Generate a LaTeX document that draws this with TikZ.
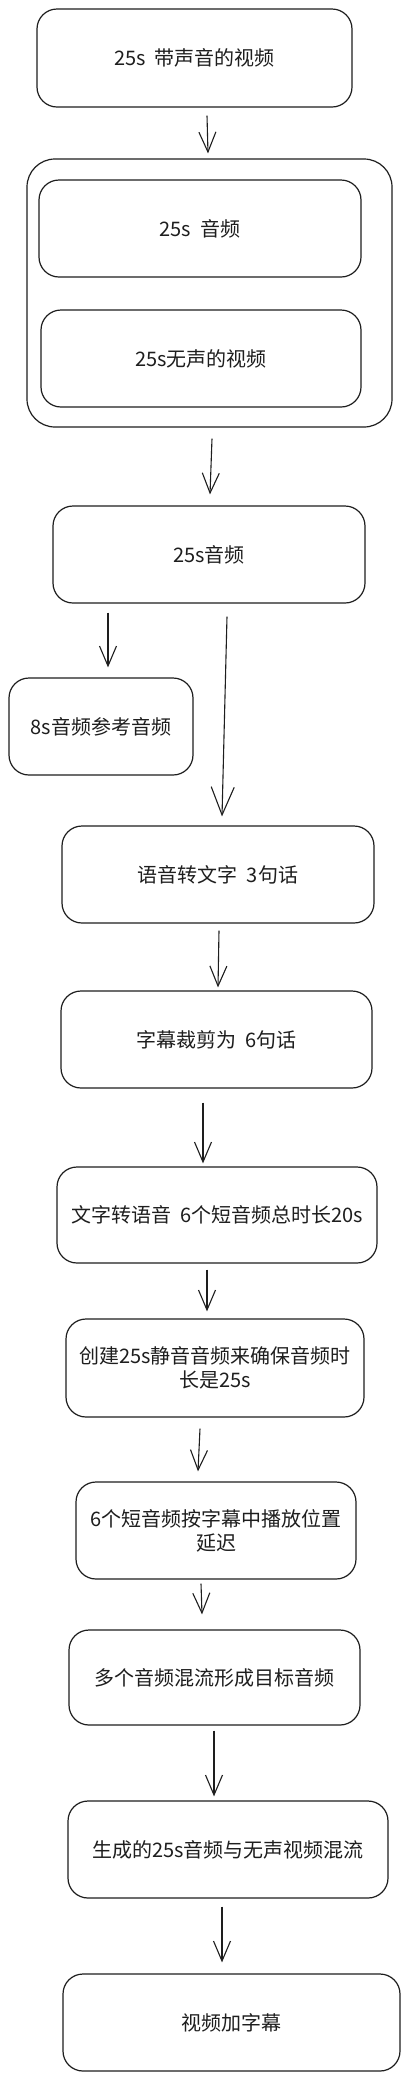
\documentclass[tikz,border=0pt]{standalone}
\usepackage{fontspec}
\setmainfont{Noto Sans CJK SC}
\usetikzlibrary{arrows.meta}

\begin{document}
\begin{tikzpicture}[x=1pt, y=-1pt]
  % Colors
  \definecolor{blank}{HTML}{ffffff}
  \definecolor{outline}{HTML}{1e1e1e}

  % Configurations
  \tikzset{
    stage/.style={draw=outline, line width=1.2pt, rounded corners=20pt,
      align=center, inner sep=0pt, text=outline,
      font=\fontsize{20}{24}\selectfont},
    feed/.style={draw=outline, line width=1.1pt,
      -{Straight Barb[length=20pt, width=17pt]}},
    longfeed/.style={feed, -{Straight Barb[length=28pt, width=23pt]}}
  }

  % Bounding box
  \useasboundingbox [fill=blank] (0,0) rectangle (408,2081);

  % Group of the two split parts
  \node [stage, rounded corners=28pt, minimum width=365pt, minimum height=268pt] (group) at (209.5,293) {};

  % Stages
  \node [stage, minimum width=315pt, minimum height=98pt] (source) at (194.5,58) {25s\ \ 带声音的视频};
  \node [stage, minimum width=322pt, minimum height=97pt] (audio) at (200,228.5) {25s\ \ 音频};
  \node [stage, minimum width=320pt, minimum height=97pt] (mute) at (201,358.5) {25s无声的视频};
  \node [stage, minimum width=312pt, minimum height=97pt] (track) at (209,554.5) {25s音频};
  \node [stage, minimum width=184pt, minimum height=97pt] (sample) at (101,726.5) {8s音频参考音频};
  \node [stage, minimum width=312pt, minimum height=97pt] (asr) at (218,874.5) {语音转文字\ \ 3句话};
  \node [stage, minimum width=311pt, minimum height=97pt] (cut) at (216.5,1039.5) {字幕裁剪为\ \ 6句话};
  \node [stage, minimum width=320pt, minimum height=96pt] (tts) at (217,1215) {文字转语音\ \ 6个短音频总时长20s};
  \node [stage, minimum width=298pt, minimum height=98pt] (silence) at (215,1368) {创建25s静音音频来确保音频时\\长是25s};
  \node [stage, minimum width=280pt, minimum height=97pt] (delay) at (216,1530.5) {6个短音频按字幕中播放位置\\延迟};
  \node [stage, minimum width=291pt, minimum height=95pt] (mix) at (214.5,1677.5) {多个音频混流形成目标音频};
  \node [stage, minimum width=320pt, minimum height=97pt] (merge) at (228,1849.5) {生成的25s音频与无声视频混流};
  \node [stage, minimum width=337pt, minimum height=97pt] (subs) at (231.5,2022.5) {视频加字幕};

  % Arrows
  \draw [feed] ([xshift=12.5pt, yshift=-8pt]source.south) -- ([xshift=-1.5pt, yshift=5pt]group.north);
  \draw [feed] ([xshift=2.5pt, yshift=-11pt]group.south) -- ([xshift=1pt, yshift=11pt]track.north);
  \draw [feed] ([xshift=-101pt, yshift=-9pt]track.south) -- ([xshift=7pt, yshift=10pt]sample.north);
  \draw [longfeed] ([xshift=18pt, yshift=-13pt]track.south) -- ([xshift=4pt, yshift=9pt]asr.north);
  \draw [feed] ([xshift=1pt, yshift=-7pt]asr.south) -- ([xshift=1.5pt, yshift=3pt]cut.north);
  \draw [feed] ([xshift=-13.5pt, yshift=-14pt]cut.south) -- ([xshift=-14pt, yshift=3pt]tts.north);
  \draw [feed] ([xshift=-10pt, yshift=-6pt]tts.south) -- ([xshift=-8pt, yshift=7pt]silence.north);
  \draw [feed] ([xshift=-15pt, yshift=-11pt]silence.south) -- ([xshift=-18pt, yshift=10pt]delay.north);
  \draw [feed] ([xshift=-15pt, yshift=-4pt]delay.south) -- ([xshift=-12.5pt, yshift=15pt]mix.north);
  \draw [feed] ([xshift=-0.5pt, yshift=-5pt]mix.south) -- ([xshift=-14pt, yshift=4pt]merge.north);
  \draw [feed] ([xshift=-6pt, yshift=-8pt]merge.south) -- ([xshift=-9.5pt, yshift=11pt]subs.north);
\end{tikzpicture}
\end{document}
